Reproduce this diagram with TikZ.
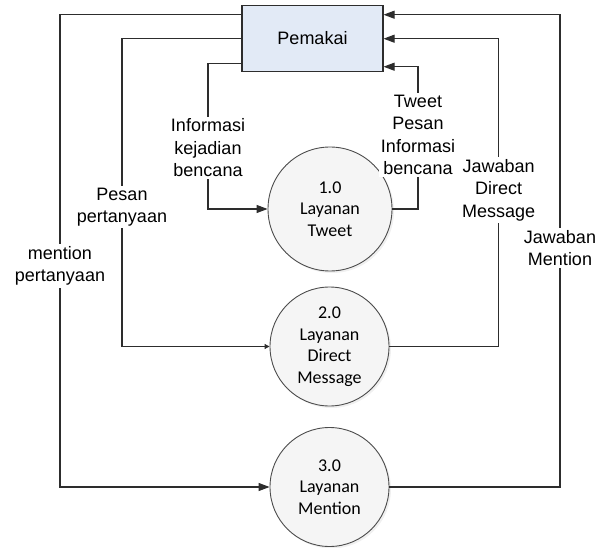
\documentclass[tikz,border=0pt]{standalone}
\usepackage{fontspec}
\setmainfont{Liberation Sans}
\newfontfamily\procfont{Carlito}
\usetikzlibrary{arrows.meta,shadows}
\definecolor{boxfill}{RGB}{226,234,246}
\definecolor{linecol}{RGB}{45,45,45}
\begin{document}
\begin{tikzpicture}[x=1pt,y=-1pt,
  entity/.style={draw=linecol,line width=1.1pt,fill=boxfill,
    minimum width=141pt,minimum height=66pt,inner sep=0pt,
    font=\fontsize{18}{22}\selectfont},
  process/.style={circle,draw=black!70,line width=0.9pt,fill=gray!8,
    minimum size=119pt,inner sep=0pt,align=center,
    font=\procfont\fontsize{18}{21.5}\selectfont,
    drop shadow={opacity=0.12,shadow xshift=2pt,shadow yshift=-2pt}},
  flow/.style={draw=linecol,line width=1.1pt,
    -{Triangle[length=11pt,width=8pt]}},
  smallflow/.style={flow,-{Triangle[length=5pt,width=5pt]}},
  flowlabel/.style={fill=white,inner sep=2pt,align=center,
    font=\fontsize{18}{22.5}\selectfont}]
\useasboundingbox (0,0) rectangle (608,548);

% external entity and processes
\node[entity] (user) at (312.5,38.3) {Pemakai};
\node[process,minimum size=124pt] (p1) at (330,209) {1.0\\Layanan\\Tweet};
\node[process] (p2) at (329.5,346.5) {2.0\\Layanan\\Direct\\Message};
\node[process] (p3) at (329.5,487) {3.0\\Layanan\\Mention};

% data flows from the user
\draw[flow] (user.west |- 0,14.7) -- (60,14.7) |- (p3.west);
\draw[smallflow] (user.west |- 0,38.7) -- (122,38.7) |- (p2.west);
\draw[flow] (user.west |- 0,63.5) -- (208,63.5) |- (p1.west);

% data flows back to the user
\draw[flow] (p1.east) -| (418,66.7) -- (user.east |- 0,66.7);
\draw[flow] (p2.east) -| (498.7,38.7) -- (user.east |- 0,38.7);
\draw[flow] (p3.east) -| (560,14.7) -- (user.east |- 0,14.7);

% flow labels
\node[flowlabel] (lInfo) at (208,148) {Informasi\\kejadian\\bencana};
\node[flowlabel] (lTweet) at (418,135) {Tweet\\Pesan\\Informasi\\bencana};
\node[flowlabel] (lPesan) at (122,207) {Pesan\\pertanyaan};
\node[flowlabel] (lMention) at (60,266) {mention\\pertanyaan};
\node[flowlabel] (lJdm) at (498.7,190) {Jawaban\\Direct\\Message};
\node[flowlabel] (lJm) at (560,248) {Jawaban\\Mention};
\end{tikzpicture}
\end{document}
